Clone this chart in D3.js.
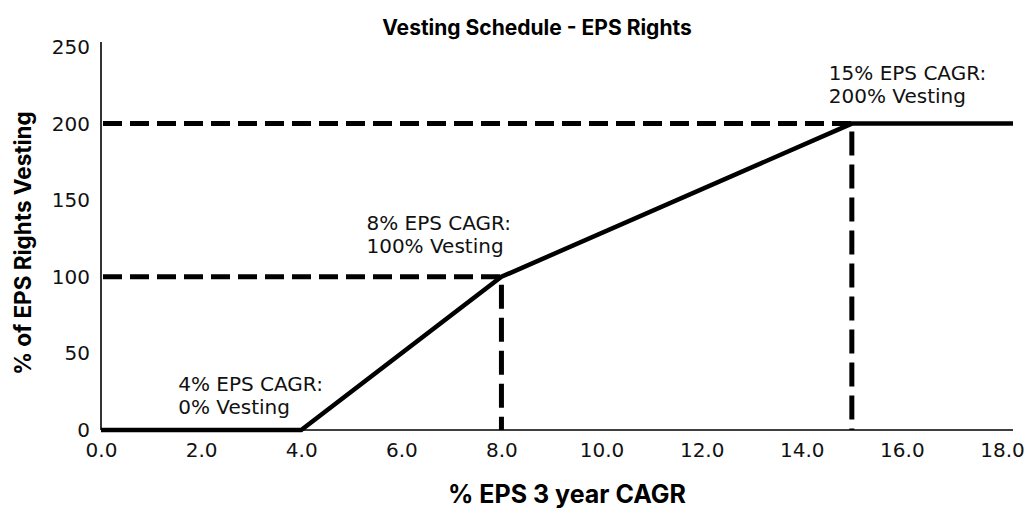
<!DOCTYPE html>
<html>
<head>
<meta charset="utf-8">
<script src="https://cdn.jsdelivr.net/npm/d3@7"></script>
<style>
  html, body { margin: 0; padding: 0; background: #fff; }
  svg { display: block; font-family: "DejaVu Sans", sans-serif; }
  .heading { font-family: "Inter", "DejaVu Sans", sans-serif; font-weight: 700; fill: #000; }
</style>
</head>
<body>
<svg id="chart" width="1024" height="513"></svg>
<script>
// Vesting curve: % EPS 3-year CAGR vs % of EPS rights vesting
const cagr    = [0, 4, 8, 15, 18];
const vesting = [0, 0, 100, 200, 200];

// Threshold points that get dashed guide lines back to the axes
const guideCagr = [8, 15];
const guideVest = [100, 200];

// Annotated points and their two-line captions
const noteCagr  = [4, 8, 15];
const noteVest  = [0, 100, 200];
const noteLine1 = ["4% EPS CAGR:", "8% EPS CAGR:", "15% EPS CAGR:"];
const noteLine2 = ["0% Vesting", "100% Vesting", "200% Vesting"];

const xTicks = [0, 2, 4, 6, 8, 10, 12, 14, 16, 18];
const yTicks = [0, 50, 100, 150, 200, 250];

const title  = "Vesting Schedule - EPS Rights";
const xTitle = "% EPS 3 year CAGR";
const yTitle = "% of EPS Rights Vesting";

const svg = d3.select("#chart");

const x = d3.scaleLinear().domain([0, 18]).range([101, 1002]);
const y = d3.scaleLinear().domain([0, 250]).range([430, 47]);

// Axes (no tick marks, labels only); the plot frame runs a little past 18
const xAxis = svg.append("g")
  .attr("transform", `translate(0,${y(0)})`)
  .call(d3.axisBottom(x).tickValues(xTicks).tickFormat(d3.format(".1f")).tickSize(0).tickPadding(13));
xAxis.select(".domain").attr("stroke", "#000").attr("stroke-width", 1.6)
  .attr("d", `M${x(0)},0H${x(18) + 11}`);
xAxis.selectAll("text").attr("font-size", 20).attr("fill", "#111")
  .attr("font-family", "DejaVu Sans, sans-serif");

const yAxis = svg.append("g")
  .attr("transform", `translate(${x(0)},0)`)
  .call(d3.axisLeft(y).tickValues(yTicks).tickSize(0).tickPadding(11));
yAxis.select(".domain").attr("stroke", "#000").attr("stroke-width", 1.6)
  .attr("d", `M0,${y(0)}V${y(250) - 5}`);
yAxis.selectAll("text").attr("font-size", 20).attr("fill", "#111")
  .attr("font-family", "DejaVu Sans, sans-serif");

// Dashed guides: horizontal to the y-axis, vertical down to the x-axis
const guides = svg.append("g").attr("stroke", "#000").attr("fill", "none");
guideCagr.forEach((c, i) => {
  guides.append("line")
    .attr("x1", x(0) + 2).attr("x2", x(c))
    .attr("y1", y(guideVest[i])).attr("y2", y(guideVest[i]))
    .attr("stroke-width", 5).attr("stroke-dasharray", "19 8");
  guides.append("line")
    .attr("x1", x(c)).attr("x2", x(c))
    .attr("y1", y(guideVest[i]) + 8).attr("y2", y(0))
    .attr("stroke-width", 5).attr("stroke-dasharray", "24 9");
});

// Vesting curve, with the flat tail carried to the end of the frame
const line = d3.line().x((d, i) => x(cagr[i])).y(d => y(d));
svg.append("path")
  .datum(vesting)
  .attr("d", line(vesting) + `H${x(18) + 11}`)
  .attr("fill", "none")
  .attr("stroke", "#000")
  .attr("stroke-width", 4.5)
  .attr("stroke-linejoin", "miter");

// Captions
const noteDx = [-123, -135, -23];
const noteDy = [-39, -47, -44];
const notes = svg.append("g").attr("font-size", 20).attr("fill", "#111");
noteCagr.forEach((c, i) => {
  const t = notes.append("text")
    .attr("x", x(c) + noteDx[i])
    .attr("y", y(noteVest[i]) + noteDy[i]);
  t.append("tspan").attr("x", x(c) + noteDx[i]).text(noteLine1[i]);
  t.append("tspan").attr("x", x(c) + noteDx[i]).attr("dy", 23).text(noteLine2[i]);
});

// Titles
svg.append("text").attr("class", "heading")
  .attr("x", 537).attr("y", 35)
  .attr("text-anchor", "middle")
  .attr("font-size", 21)
  .text(title);

svg.append("text").attr("class", "heading")
  .attr("x", 567).attr("y", 503)
  .attr("text-anchor", "middle")
  .attr("font-size", 25)
  .text(xTitle);

svg.append("text").attr("class", "heading")
  .attr("transform", `translate(31,243) rotate(-90)`)
  .attr("text-anchor", "middle")
  .attr("font-size", 22.5)
  .text(yTitle);
</script>
</body>
</html>
